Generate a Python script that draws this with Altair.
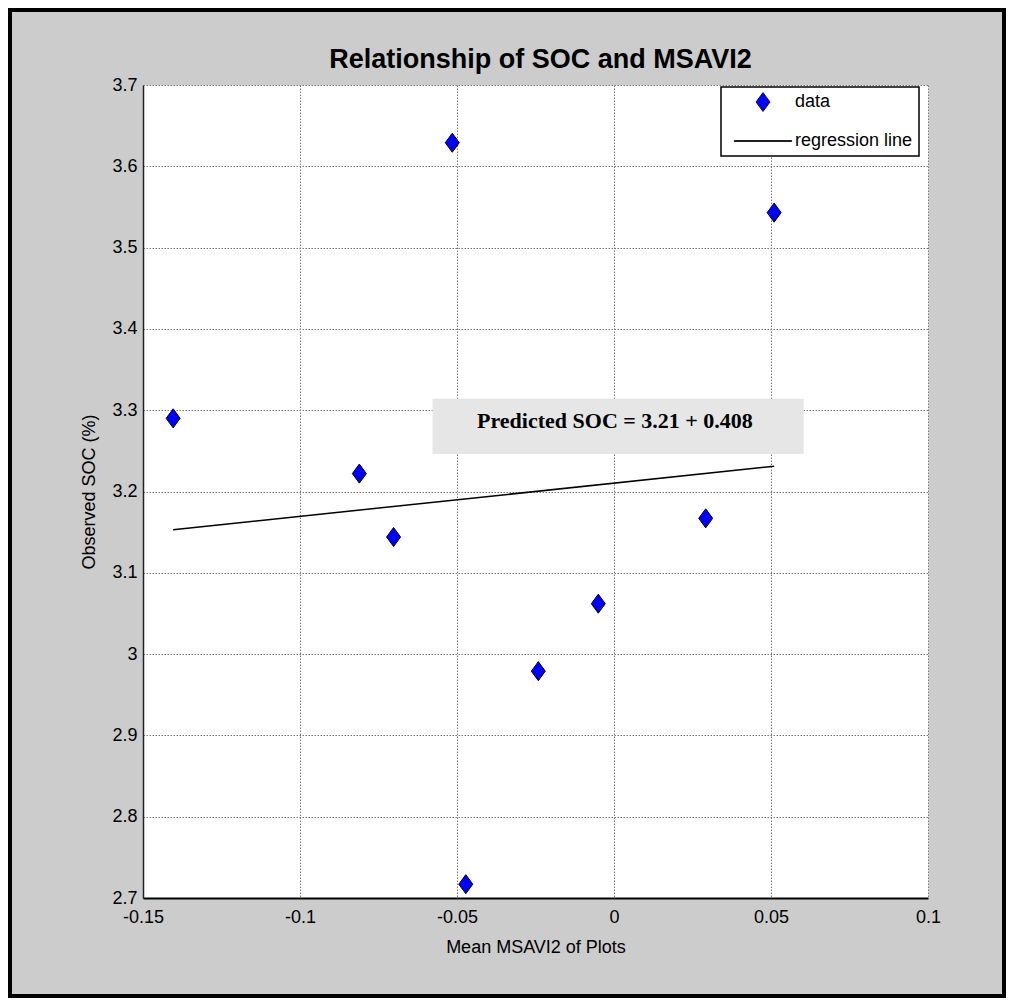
import altair as alt
import pandas as pd

# ---- data ----
msavi2 = [-0.1404, -0.0811, -0.0702, -0.0515, -0.0472, -0.0241, -0.0050, 0.0292, 0.0510]
soc = [3.290, 3.222, 3.144, 3.629, 2.717, 2.979, 3.062, 3.167, 3.543]

reg_x = [-0.1404, 0.0510]
reg_y = [3.153, 3.231]

legend_labels = ["data", "regression line"]
legend_colors = ["#0000ff", "#000000"]

x_ticks = [-0.15, -0.1, -0.05, 0, 0.05, 0.1]
y_ticks = [2.7, 2.8, 2.9, 3.0, 3.1, 3.2, 3.3, 3.4, 3.5, 3.6, 3.7]

ann_text = ["Predicted SOC = 3.21 + 0.408"]
ann_box_x = [-0.0578, 0.0604]
ann_box_y = [3.246, 3.314]
ann_text_x = [0.0003]
ann_text_y = [3.278]

title_text = "Relationship of SOC and MSAVI2"
x_title = "Mean MSAVI2 of Plots"
y_title = "Observed SOC (%)"

# ---- tables ----
pts = pd.DataFrame({"x": msavi2, "y": soc, "series": ["data"] * len(msavi2)})
reg = pd.DataFrame({"x": reg_x, "y": reg_y})
box = pd.DataFrame({"x": [ann_box_x[0]], "x2": [ann_box_x[1]], "y": [ann_box_y[0]], "y2": [ann_box_y[1]]})
txt = pd.DataFrame({"x": ann_text_x, "y": ann_text_y, "t": ann_text})
title_df = pd.DataFrame({"t": [title_text]})
frame_df = pd.DataFrame({"a": [0]})

W, H = 785, 813
PAD = {"left": 135, "top": 77, "right": 78, "bottom": 100}

xs = alt.Scale(domain=[-0.15, 0.1], nice=False, zero=False)
ys = alt.Scale(domain=[2.7, 3.7], nice=False, zero=False)

FONT = "Liberation Sans"

x_axis = alt.Axis(
    values=x_ticks,
    labelExpr="(datum.value < 0 ? '-' : '') + format(abs(datum.value), '~g')",
    title=x_title,
    grid=True, gridColor="#7a7a7a", gridDash=[1.5, 1.5], gridWidth=1,
    tickSize=0, domainColor="black", domainWidth=2,
    labelFont=FONT, labelFontSize=18, labelColor="black", labelPadding=10,
    labelFlush=False, labelOverlap=False,
    titleFont=FONT, titleFontSize=18, titleFontWeight="normal", titleColor="black",
    titlePadding=12,
)
y_axis = alt.Axis(
    values=y_ticks,
    labelExpr="format(datum.value, '~g')",
    title=y_title,
    grid=True, gridColor="#7a7a7a", gridDash=[1.5, 1.5], gridWidth=1,
    tickSize=0, domainColor="#222222", domainWidth=1.5,
    labelFont=FONT, labelFontSize=18, labelColor="black", labelPadding=6,
    labelFlush=False, labelOverlap=False,
    titleFont=FONT, titleFontSize=18, titleFontWeight="normal", titleColor="black",
    titlePadding=13,
)

# custom symbol paths (unit box -1..1): a tall diamond and a long thin bar for the line entry
diamond_path = "M-1,0L0,-1.36L1,0L0,1.36Z"
line_path = "M-4.1,-0.06L4.1,-0.06L4.1,0.06L-4.1,0.06Z"

legend_def = alt.Legend(
    title=None, orient="none", legendX=578, legendY=2,
    fillColor="white", strokeColor="black", padding=6,
    symbolOffset=27, labelOffset=23, symbolSize=196,
    symbolStrokeColor="black", symbolStrokeWidth=0.8,
    labelFont=FONT, labelFontSize=18, labelColor="black", rowPadding=18,
)

base_box = alt.Chart(box).mark_rect(fill="#e6e6e6").encode(
    x=alt.X("x:Q", scale=xs, axis=x_axis),
    x2="x2:Q",
    y=alt.Y("y:Q", scale=ys, axis=y_axis),
    y2="y2:Q",
)

reg_line = alt.Chart(reg).mark_line(color="black", strokeWidth=1.5).encode(
    x=alt.X("x:Q", scale=xs),
    y=alt.Y("y:Q", scale=ys),
)

points = alt.Chart(pts).mark_point(
    filled=True, stroke="black", strokeWidth=1, size=196, opacity=1
).encode(
    x=alt.X("x:Q", scale=xs),
    y=alt.Y("y:Q", scale=ys),
    shape=alt.Shape(
        "series:N",
        scale=alt.Scale(domain=legend_labels, range=[diamond_path, line_path]),
        legend=legend_def,
    ),
    color=alt.Color(
        "series:N",
        scale=alt.Scale(domain=legend_labels, range=legend_colors),
        legend=legend_def,
    ),
)

ann = alt.Chart(txt).mark_text(
    font="Liberation Serif", fontWeight="bold", fontSize=22, color="black",
    align="center", baseline="alphabetic",
).encode(
    x=alt.X("x:Q", scale=xs),
    y=alt.Y("y:Q", scale=ys),
    text="t:N",
)

title_mark = alt.Chart(title_df).mark_text(
    font=FONT, fontWeight="bold", fontSize=27, color="black",
    align="center", baseline="alphabetic",
).encode(
    x=alt.value(W / 2 + 5),
    y=alt.value(-17),
    text="t:N",
)

frame = alt.Chart(frame_df).mark_rect(
    filled=False, fill="transparent", stroke="black", strokeWidth=4
).encode(
    x=alt.value(2 - PAD["left"]),
    x2=alt.value(W + PAD["right"] - 2),
    y=alt.value(2 - PAD["top"]),
    y2=alt.value(H + PAD["bottom"] - 2),
)

chart = alt.layer(base_box, reg_line, points, ann, title_mark, frame).properties(
    width=W, height=H,
    padding=PAD,
    autosize=alt.AutoSizeParams(type="none"),
).configure(background="#cccccc").configure_view(fill="white", stroke="transparent").configure_legend(
    strokeWidth=1.5
)

chart.save("out.html", embed_options={"renderer": "svg", "actions": False})
